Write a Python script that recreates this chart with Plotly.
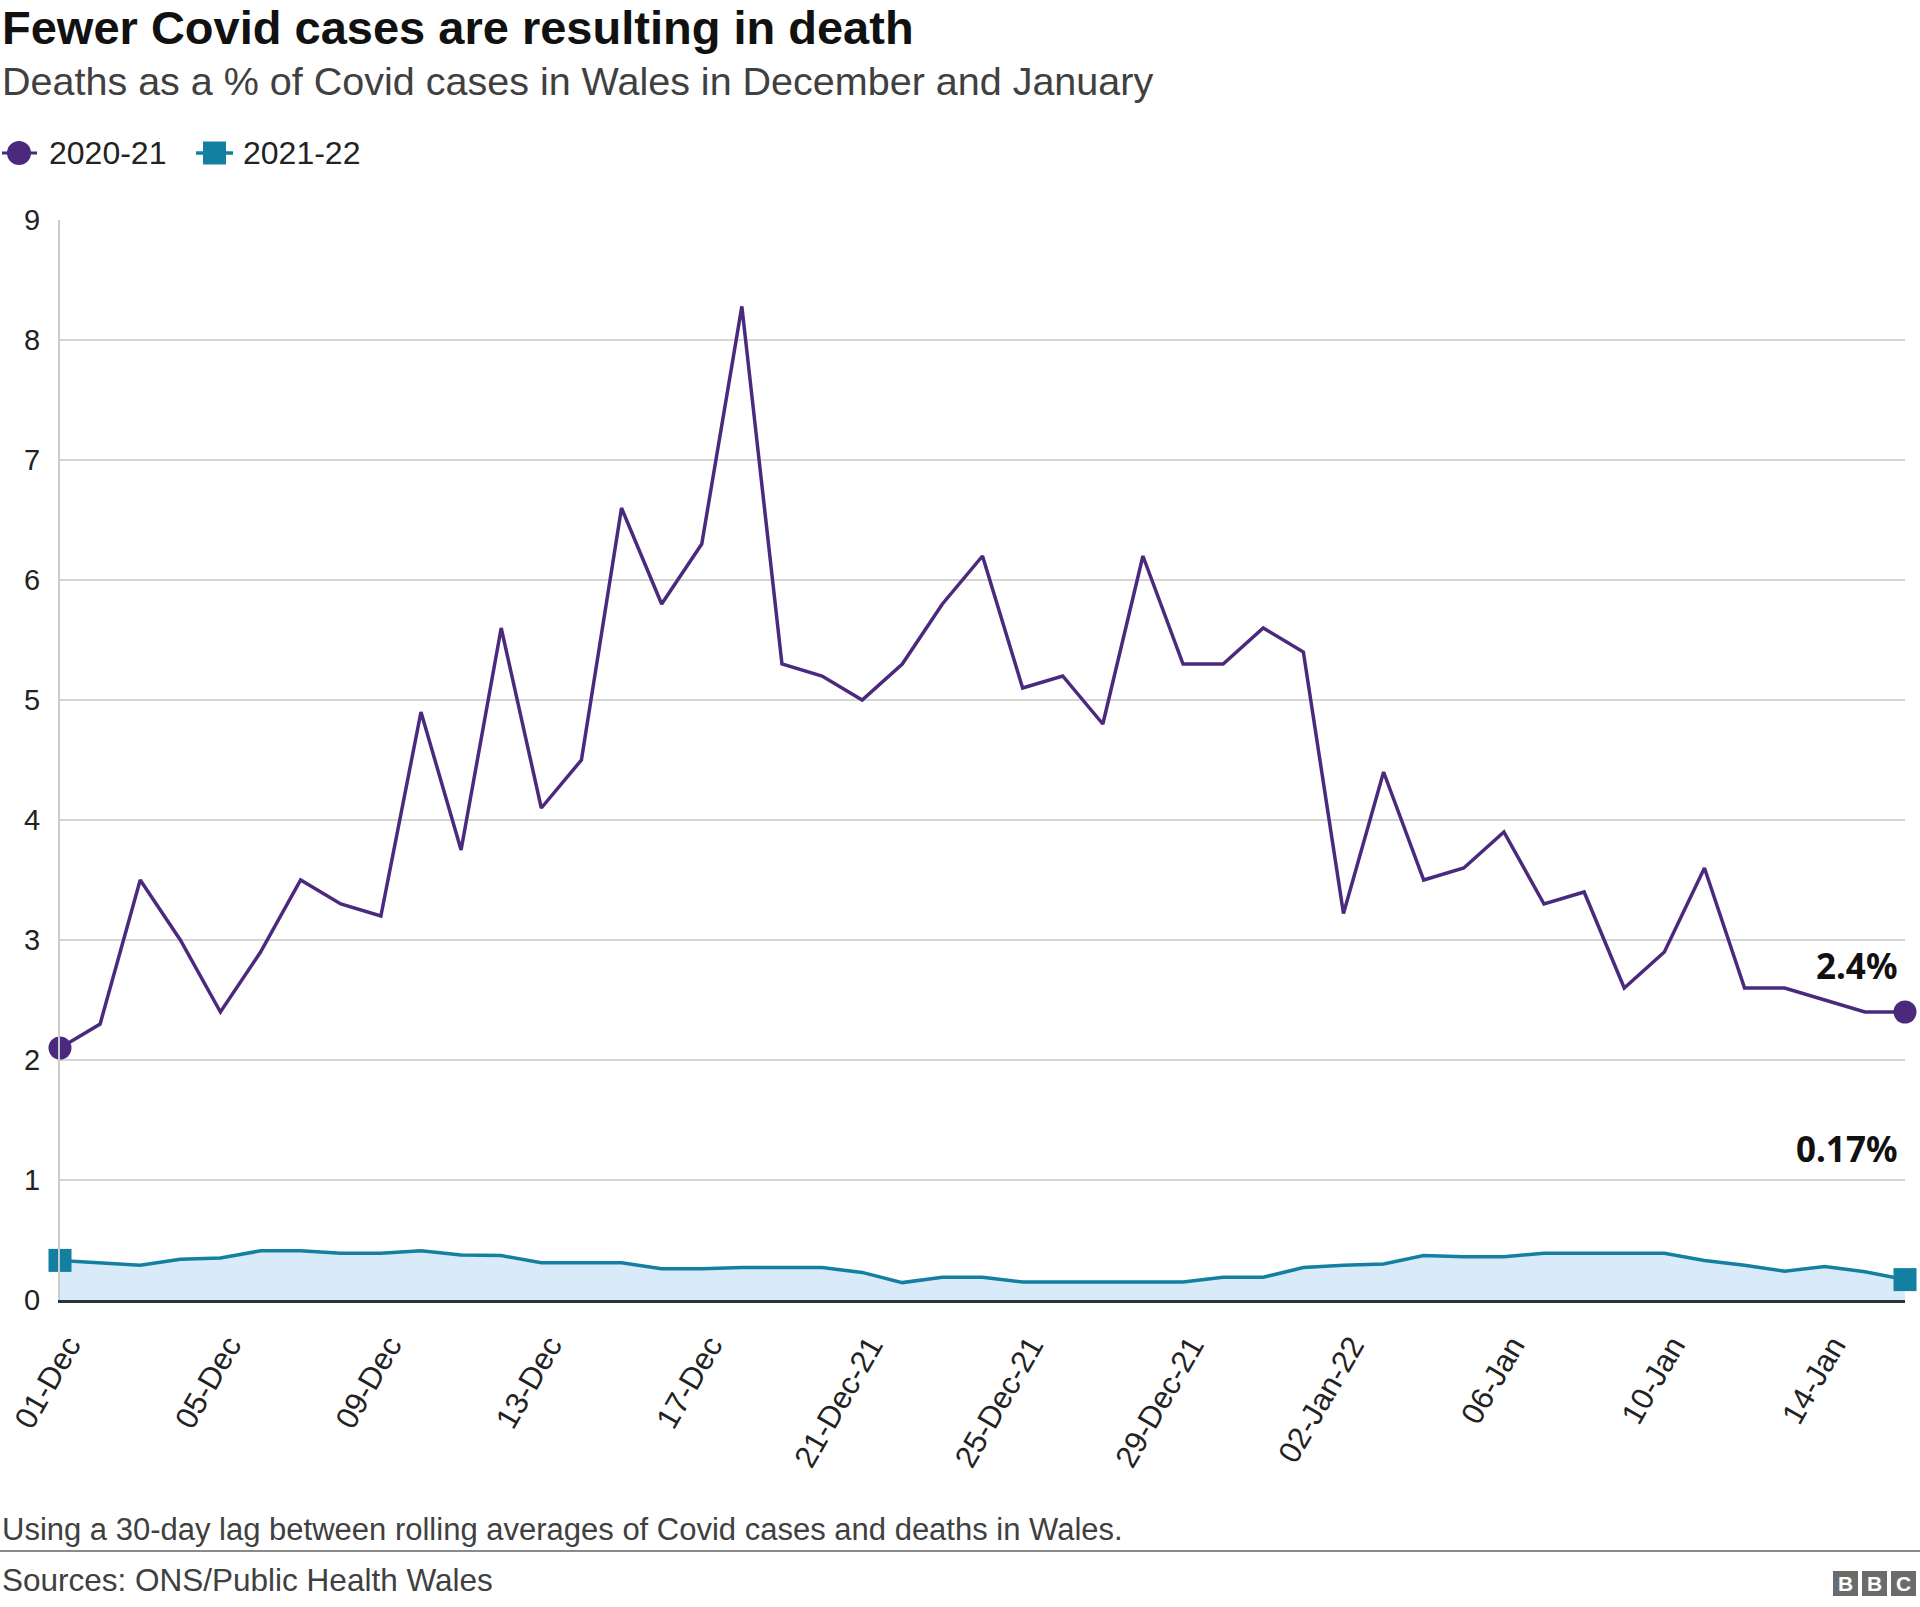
import pandas as pd
import plotly.graph_objects as go

dates = pd.date_range("2021-12-01", "2022-01-16", freq="D")

deaths_2020_21 = [2.1, 2.3, 3.5, 3.0, 2.4, 2.9, 3.5, 3.3, 3.2, 4.9,
                  3.75, 5.6, 4.1, 4.5, 6.6, 5.8, 6.3, 8.28, 5.3, 5.2,
                  5.0, 5.3, 5.8, 6.2, 5.1, 5.2, 4.8, 6.2, 5.3, 5.3,
                  5.6, 5.4, 3.22, 4.4, 3.5, 3.6, 3.9, 3.3, 3.4, 2.6,
                  2.9, 3.6, 2.6, 2.6, 2.5, 2.4, 2.4]

deaths_2021_22 = [0.33, 0.31, 0.29, 0.34, 0.35, 0.41, 0.41, 0.39, 0.39, 0.41,
                  0.375, 0.37, 0.31, 0.31, 0.31, 0.26, 0.26, 0.27, 0.27, 0.27,
                  0.23, 0.145, 0.19, 0.19, 0.15, 0.15, 0.15, 0.15, 0.15, 0.19,
                  0.19, 0.27, 0.29, 0.30, 0.37, 0.36, 0.36, 0.39, 0.39, 0.39,
                  0.39, 0.33, 0.29, 0.24, 0.28, 0.235, 0.17]

series_names = ["2020-21", "2021-22"]

tick_dates = dates[::4]
tick_labels = ["01-Dec", "05-Dec", "09-Dec", "13-Dec", "17-Dec", "21-Dec-21",
               "25-Dec-21", "29-Dec-21", "02-Jan-22", "06-Jan", "10-Jan", "14-Jan"]

PURPLE = "#4B2A7E"
TEAL = "#1380A1"
FILL = "#D9EAF8"
FONT = "Liberation Sans, Arial, Helvetica, sans-serif"
ANN_FONT = "Noto Sans, Open Sans, sans-serif"

W, H = 1920, 1607
ML, MR, MT, MB = 60, 15, 220, 307
PW = W - ML - MR
PH = H - MT - MB


def px_x(px):
    return (px - ML) / PW


def px_y(py):
    return (H - MB - py) / PH


fig = go.Figure()

fig.add_trace(go.Scatter(
    x=dates, y=deaths_2021_22, mode="lines", fill="tozeroy",
    fillcolor=FILL, line=dict(color=TEAL, width=3.5),
    showlegend=False, hoverinfo="skip", cliponaxis=False))

fig.add_trace(go.Scatter(
    x=dates, y=deaths_2020_21, mode="lines", name=series_names[0],
    line=dict(color=PURPLE, width=3.5), showlegend=False, cliponaxis=False))

fig.add_trace(go.Scatter(
    x=[dates[0], dates[-1]], y=[deaths_2020_21[0], deaths_2020_21[-1]],
    mode="markers", showlegend=False, cliponaxis=False,
    marker=dict(symbol="circle", size=23, color=PURPLE, opacity=1,
                line=dict(width=0))))

fig.add_trace(go.Scatter(
    x=[dates[0], dates[-1]], y=[deaths_2021_22[0], deaths_2021_22[-1]],
    mode="markers", showlegend=False, cliponaxis=False,
    marker=dict(symbol="square", size=23, color=TEAL, opacity=1,
                line=dict(width=0))))

# small offset so rotated labels sit like the original's
tick_positions = [d + pd.Timedelta(hours=5) for d in tick_dates]

fig.update_layout(
    width=W, height=H,
    margin=dict(l=ML, r=MR, t=MT, b=MB, autoexpand=False),
    paper_bgcolor="white", plot_bgcolor="white",
    font=dict(family=FONT, size=30, color="#222222"),
    showlegend=False,
    xaxis=dict(
        range=[dates[0], dates[-1]],
        tickvals=tick_positions, ticktext=tick_labels,
        tickangle=-60, showgrid=False, zeroline=False,
        showline=True, linecolor="#2B333B", linewidth=3,
        ticks="", tickfont=dict(size=31, color="#222222"),
        ticklabelstandoff=12, automargin=False, ticklabeloverflow="allow",
    ),
    yaxis=dict(
        range=[0, 9], dtick=1, showgrid=True, gridcolor="#D5D5D5",
        gridwidth=2, zeroline=False, showline=True, linecolor="#CCCCCC",
        linewidth=2, ticks="", tickfont=dict(size=29, color="#222222"),
        ticklabelstandoff=12, automargin=False, ticklabeloverflow="allow",
    ),
    hovermode=False,
)

annotations = [
    dict(text="<b>Fewer Covid cases are resulting in death</b>",
         x=px_x(0), y=px_y(28), xanchor="left", yanchor="middle",
         font=dict(size=47, color="#111111", family=FONT)),
    dict(text="Deaths as a % of Covid cases in Wales in December and January",
         x=px_x(0), y=px_y(81), xanchor="left", yanchor="middle",
         font=dict(size=39.5, color="#404040", family=FONT)),
    dict(text="Using a 30-day lag between rolling averages of Covid cases and deaths in Wales.",
         x=px_x(0), y=px_y(1529), xanchor="left", yanchor="middle",
         font=dict(size=31, color="#404040", family=FONT)),
    dict(text="Sources: ONS/Public Health Wales",
         x=px_x(0), y=px_y(1580), xanchor="left", yanchor="middle",
         font=dict(size=31.5, color="#404040", family=FONT)),
    dict(text=series_names[0], x=px_x(47), y=px_y(153),
         xanchor="left", yanchor="middle",
         font=dict(size=32, color="#222222", family=FONT)),
    dict(text=series_names[1], x=px_x(241), y=px_y(153),
         xanchor="left", yanchor="middle",
         font=dict(size=32, color="#222222", family=FONT)),
]
for a in annotations:
    a.update(xref="paper", yref="paper", showarrow=False)

annotations += [
    dict(text="<b>2.4%</b>", x=dates[-1], y=2.79, xref="x", yref="y",
         xanchor="right", yanchor="middle", xshift=-6, showarrow=False,
         font=dict(size=35, color="#111111", family=ANN_FONT)),
    dict(text="<b>0.17%</b>", x=dates[-1], y=1.26, xref="x", yref="y",
         xanchor="right", yanchor="middle", xshift=-6, showarrow=False,
         font=dict(size=35, color="#111111", family=ANN_FONT)),
]

shapes = [
    dict(type="line", xref="paper", yref="paper",
         x0=px_x(0), x1=px_x(W), y0=px_y(1551), y1=px_y(1551),
         line=dict(color="#8A8A8A", width=2)),
    # legend: 2020-21
    dict(type="line", xref="paper", yref="paper",
         x0=px_x(2), x1=px_x(37), y0=px_y(153), y1=px_y(153),
         line=dict(color=PURPLE, width=3)),
    dict(type="circle", xref="paper", yref="paper",
         x0=px_x(7), x1=px_x(31), y0=px_y(165), y1=px_y(141),
         fillcolor=PURPLE, line=dict(width=0)),
    # legend: 2021-22
    dict(type="line", xref="paper", yref="paper",
         x0=px_x(196), x1=px_x(233), y0=px_y(153), y1=px_y(153),
         line=dict(color=TEAL, width=3.5)),
    dict(type="rect", xref="paper", yref="paper",
         x0=px_x(203), x1=px_x(226), y0=px_y(164.5), y1=px_y(141.5),
         fillcolor=TEAL, line=dict(width=0)),
]

for i, letter in enumerate("BBC"):
    x0 = 1833 + i * 29
    shapes.append(dict(type="rect", xref="paper", yref="paper",
                       x0=px_x(x0), x1=px_x(x0 + 25),
                       y0=px_y(1596), y1=px_y(1571),
                       fillcolor="#6B6B6B", line=dict(width=0)))
    annotations.append(dict(text="<b>" + letter + "</b>", xref="paper", yref="paper",
                            x=px_x(x0 + 12.5), y=px_y(1583.5),
                            xanchor="center", yanchor="middle", showarrow=False,
                            font=dict(size=21, color="white", family=FONT)))

fig.update_layout(annotations=annotations, shapes=shapes)

fig.write_html(
    "out.html",
    config={"displayModeBar": False, "staticPlot": True},
    post_script="document.body.style.margin='0';document.body.style.overflow='hidden';",
)
